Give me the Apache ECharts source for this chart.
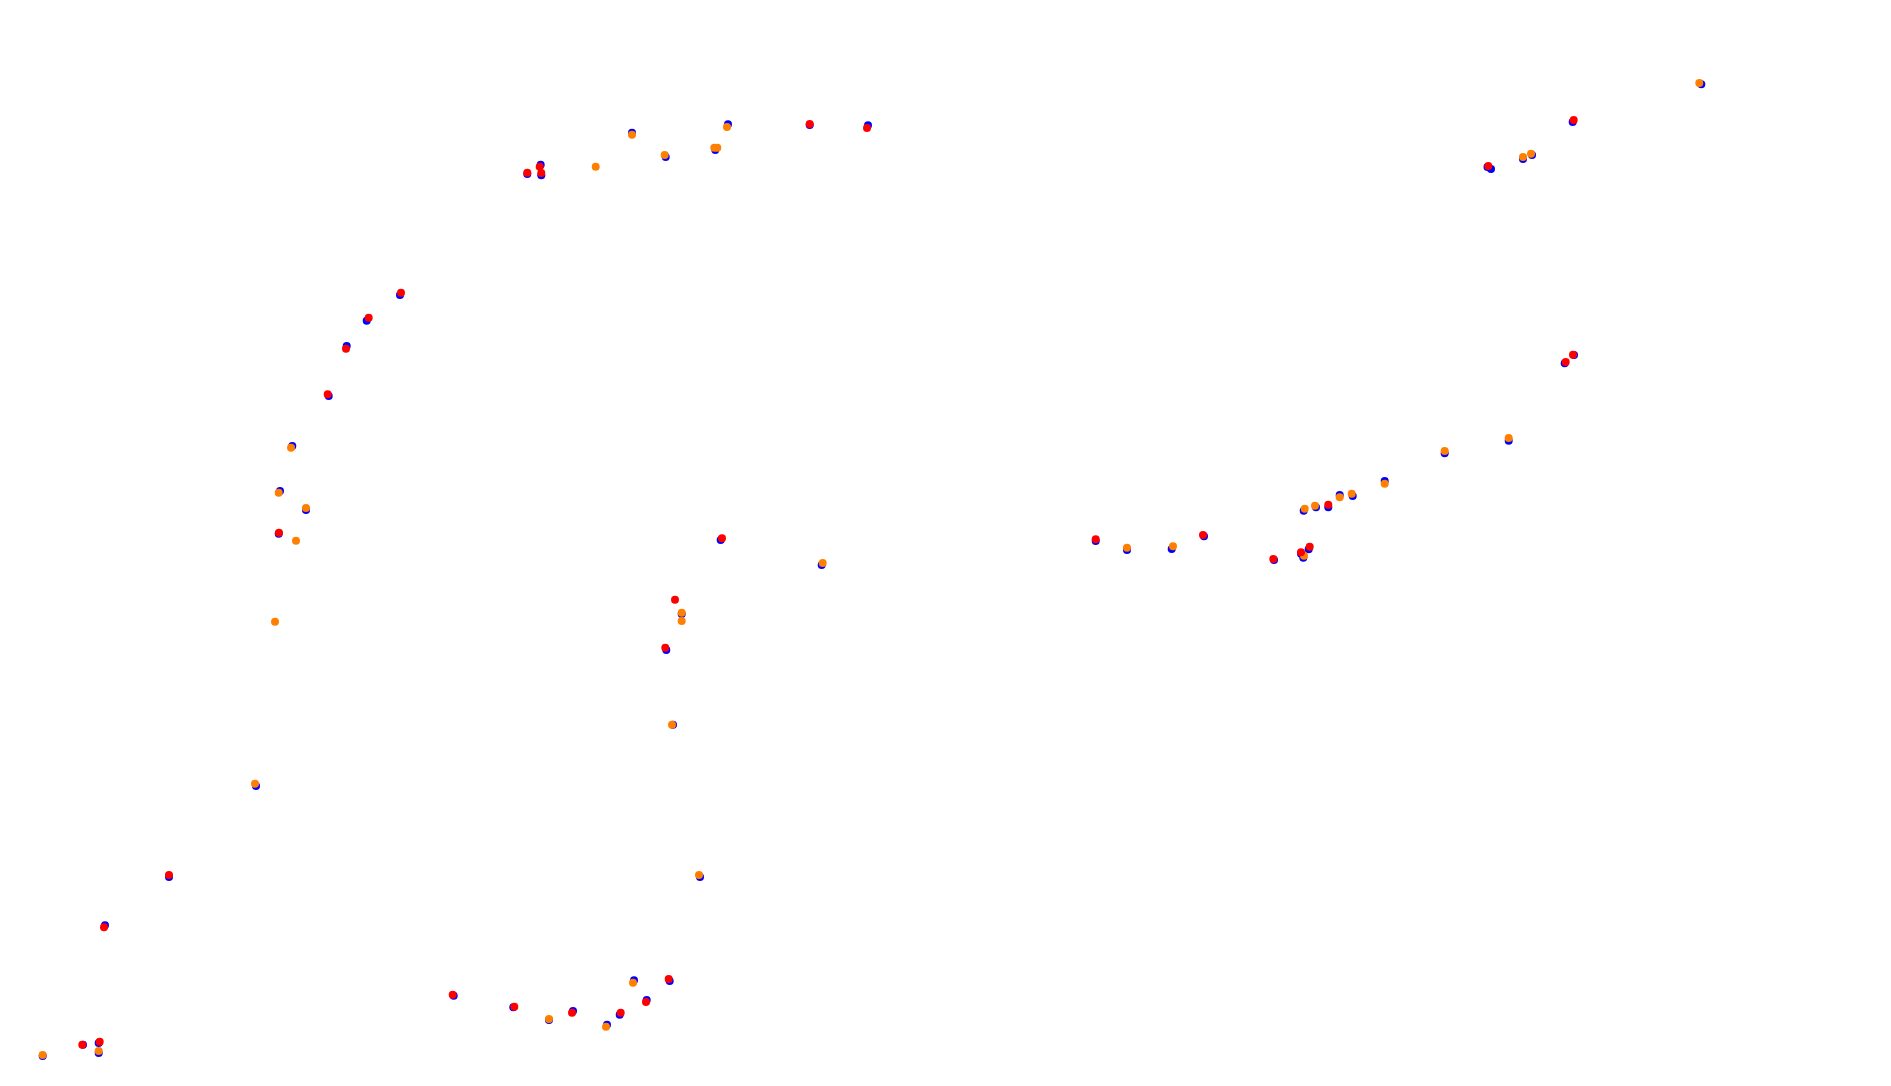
<!DOCTYPE html>
<html>
<head>
<meta charset="utf-8">
<script src="https://cdn.jsdelivr.net/npm/echarts@6/dist/echarts.min.js"></script>
<style>html,body{margin:0;padding:0;background:#fff;}#c{width:1891px;height:1086px;}</style>
</head>
<body>
<div id="c"></div>
<script>
var bluePoints = [
  [42.7,1056],[83,1044.7],[98.7,1043],[98.7,1053],[453.7,995.7],[513.3,1007.3],[549,1020],[573,1011],[607,1024.7],[619.7,1014.7],[634,980.3],[646.7,1000],[669.7,981],
  [527.3,174],[540.7,164.7],[541.3,175.3],[632,132.7],[665.7,157],[715.3,150],[728,124.3],[809.7,125],[868,125.3],
  [1487.5,167],[1491,169],[1523,159],[1532,155],[1572.7,122],[1701.3,84.3],
  [400,295],[366.7,320.7],[346.7,346],[328.7,396],
  [292.3,446],[280,491],[306,510],[278.7,533.7],
  [720.7,540],[821.7,565],[681.7,614],[666.3,650],[673,724.7],[700,877],
  [1095.7,541],[1127,550],[1171.7,549],[1204,536.3],[1274,560],[1301,553.7],[1303.3,557.7],[1308.7,549.3],
  [1574,355],[1564.7,363.3],[1508.7,440.7],[1444.7,453.3],[1384.7,481],[1352.7,496],[1339.7,495],[1328.3,507.3],[1316,507.3],[1303.7,510.7],
  [256,786],[169,877],[105,925.3]
];
var orangePoints = [
  [42.7,1055],[98.7,1051],[549,1019],[606,1026.7],[633,982.7],
  [595.7,166.7],[632,134.7],[664.7,155],[714.3,147.7],[717.3,147.7],[727,127],
  [1523,157],[1531,153.7],[1699.3,83],
  [291,447.7],[278.7,492.7],[306,508],[296,540.7],[275,621.7],
  [822.7,563],[681.7,612.7],[681.7,621],[672,724.7],[699,875],
  [1127,547.7],[1173,546.3],[1304,555.7],
  [1508.7,438],[1444.7,451],[1384.7,483.7],[1351.7,493.7],[1339.7,497.3],[1315,505.7],[1304.7,508.7],
  [255,783.7]
];
var redPoints = [
  [82.3,1044.7],[99.7,1041.7],[452.7,994.7],[514.3,1006.7],[572,1012.7],[620.7,1012.7],[646,1002],[668.7,979],
  [527.3,172.7],[539.7,166.7],[541.3,173],[809.7,124],[867,128],
  [1488.3,166],[1573.7,120],
  [401,292.7],[368.7,317.7],[346,348.7],[327.7,394.3],[279,532.7],
  [722,538.3],[675,599.7],[665.3,647.7],
  [1095.7,539.3],[1203,535],[1273.3,559],[1301,552.3],[1309.7,546.7],
  [1573,354.7],[1565.7,362],[1328.3,504.7],
  [169,875],[104,927.3]
];
var chart = echarts.init(document.getElementById('c'));
function s(name, data, color){
  return {name:name,type:'scatter',data:data,symbol:'circle',symbolSize:8,
    itemStyle:{color:color,opacity:1},emphasis:{disabled:true}};
}
chart.setOption({
  animation:false,
  backgroundColor:'#ffffff',
  grid:{left:0,right:0,top:0,bottom:0},
  xAxis:{type:'value',min:0,max:1891,show:false},
  yAxis:{type:'value',min:0,max:1086,inverse:true,show:false},
  series:[s('blue',bluePoints,'#0000ff'),s('orange',orangePoints,'#ff8000'),s('red',redPoints,'#ff0000')]
});
</script>
</body>
</html>
